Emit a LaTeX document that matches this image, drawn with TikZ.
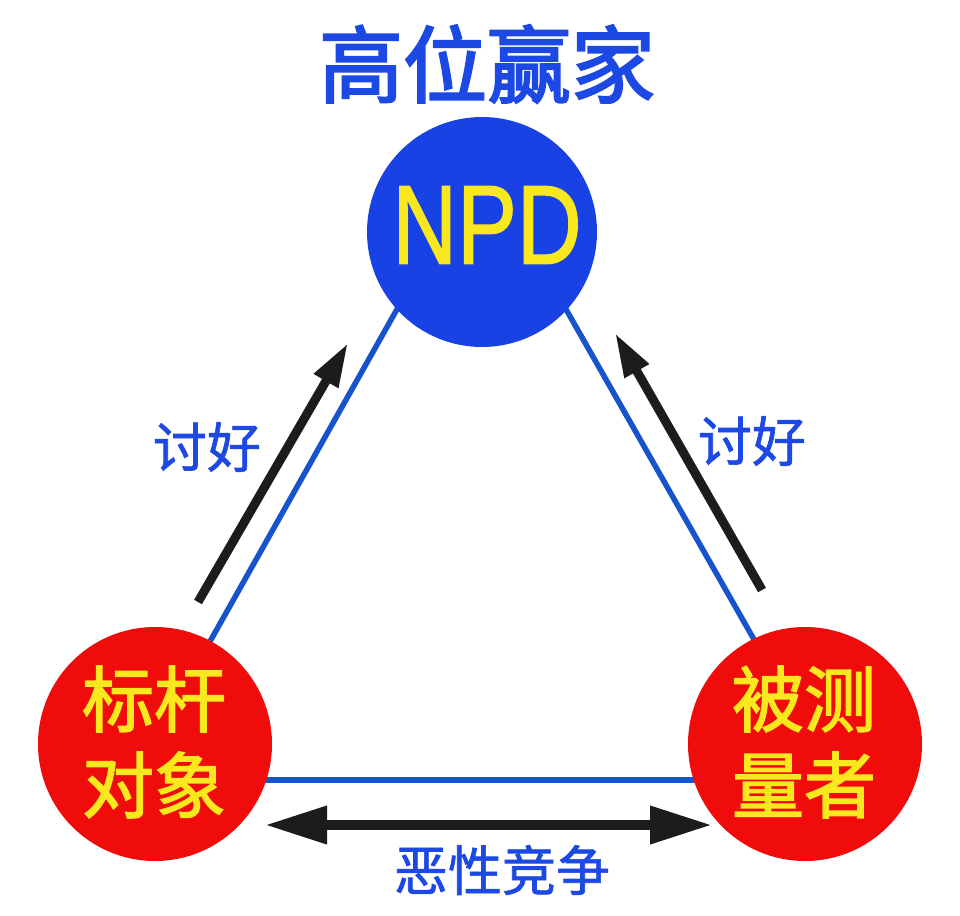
\documentclass[tikz,border=0pt]{standalone}
\usepackage{fontspec}
\usetikzlibrary{arrows.meta}
\newfontfamily\cjkmid[FakeBold=2.6]{Noto Sans CJK SC}
\newfontfamily\cjksemi[FakeBold=2]{Noto Sans CJK SC}
\newfontfamily\cjklight[FakeBold=1.2]{Noto Sans CJK SC}
\newfontfamily\latn[FakeBold=1.5]{Liberation Sans}
\definecolor{npdblue}{RGB}{24,66,228}
\definecolor{lineblue}{RGB}{22,84,206}
\definecolor{textblue}{RGB}{28,72,228}
\definecolor{bigred}{RGB}{240,12,10}
\definecolor{ylw}{RGB}{250,232,30}
\definecolor{arrowblack}{RGB}{28,28,28}
\tikzset{
  tri/.style={draw=lineblue, line width=5.5pt},
  bigcircle/.style={circle, inner sep=0pt, draw=none},
  pushArrow/.style={draw=arrowblack, line width=9pt, -{Triangle[length=44pt,width=26pt]}},
  duelArrow/.style={draw=arrowblack, line width=10pt, {Triangle[length=62pt,width=36pt]}-{Triangle[length=62pt,width=36pt]}},
  lbl/.style={text=textblue, font=\cjklight\fontsize{54}{60}\selectfont, inner sep=0pt},
  redtext/.style={text=ylw, font=\cjksemi\fontsize{72}{86}\selectfont, align=center, inner sep=0pt}
}
\begin{document}
\begin{tikzpicture}[x=1pt,y=-1pt]
\useasboundingbox (0,0) rectangle (960,915);
\fill[white] (0,0) rectangle (960,915);
% triangle vertices
\coordinate (apex) at (481,160);
\coordinate (bl) at (132,780);
\coordinate (br) at (834,780);
\draw[tri] (bl) -- (apex);
\draw[tri] (br) -- (apex);
\draw[tri] (bl) -- (br);
% circles
\node[bigcircle, fill=npdblue, minimum size=230pt] (npd) at (482,232) {};
\node[bigcircle, fill=bigred, minimum size=234pt] (bench) at (155,744) {};
\node[bigcircle, fill=bigred, minimum size=234pt] (meas) at (805,744) {};
% texts
\node[text=ylw, inner sep=0pt, font=\latn\fontsize{112}{120}\selectfont] (npdtxt) at (487,225) {\scalebox{0.8}[1]{NPD}};
\node[redtext] (benchtxt) at (154,742) {标杆\\对象};
\node[redtext] (meastxt) at (804,742) {被测\\量者};
\node[text=textblue, inner sep=0pt, font=\cjkmid\fontsize{84}{90}\selectfont] (title) at (487,64) {高位赢家};
\node[lbl] (ltxt) at (207,447) {讨好};
\node[lbl] (rtxt) at (752,441) {讨好};
\node[lbl] (btxt) at (502,870) {恶性竞争};
% arrows
\coordinate (la0) at (198,602);
\coordinate (la1) at (348,343);
\coordinate (ra0) at (762,590);
\coordinate (ra1) at (615,333);
\coordinate (ba0) at (265,825);
\coordinate (ba1) at (712,825);
\draw[pushArrow] (la0) -- (la1);
\draw[pushArrow] (ra0) -- (ra1);
\draw[duelArrow] (ba0) -- (ba1);
\end{tikzpicture}
\end{document}
